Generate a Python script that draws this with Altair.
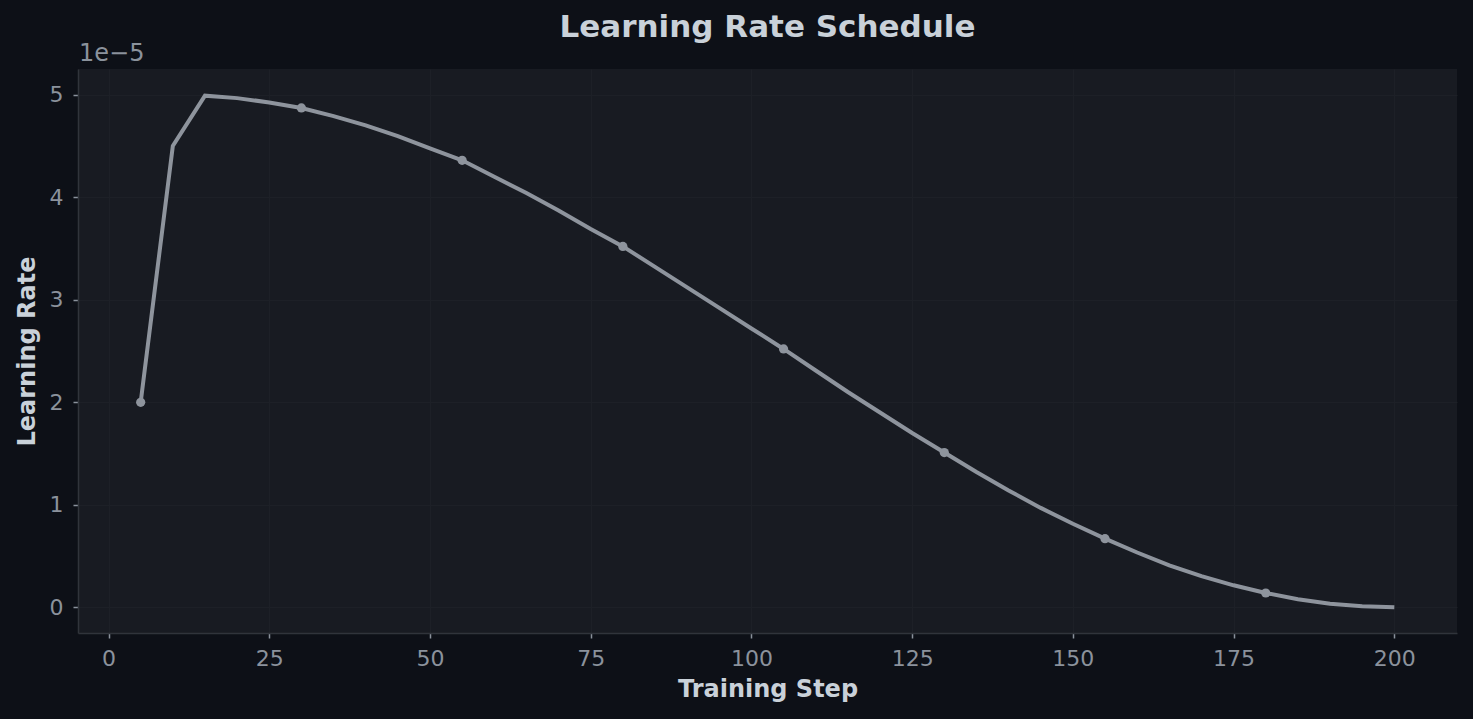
import altair as alt
import pandas as pd

# Learning rate schedule values (in units of 1e-5)
steps = [5, 10, 15, 20, 25, 30, 35, 40, 45, 50, 55, 60, 65, 70, 75, 80, 85, 90, 95, 100,
         105, 110, 115, 120, 125, 130, 135, 140, 145, 150, 155, 160, 165, 170, 175, 180,
         185, 190, 195, 200]
lr_1e5 = [2.0, 4.5, 4.99, 4.966, 4.924, 4.87, 4.79, 4.70, 4.595, 4.475, 4.36, 4.20,
          4.04, 3.87, 3.69, 3.52, 3.32, 3.12, 2.92, 2.72, 2.52, 2.31, 2.10, 1.90,
          1.70, 1.51, 1.32, 1.14, 0.97, 0.815, 0.67, 0.535, 0.41, 0.305, 0.215, 0.14,
          0.08, 0.035, 0.01, 0.0]
marker_steps = [5, 30, 55, 80, 105, 130, 155, 180]

x_ticks = [0, 25, 50, 75, 100, 125, 150, 175, 200]
y_ticks = [0, 1, 2, 3, 4, 5]

df = pd.DataFrame({"step": steps, "lr": lr_1e5})
df_pts = df[df["step"].isin(marker_steps)]

BG = "#0d1017"
PLOT_BG = "#181b22"
LINE = "#8e949d"
LABEL = "#8b929c"
TITLE = "#c9d1d9"
SPINE = "#30343b"
GRID = "#1d2027"

x_enc = alt.X("step:Q",
              scale=alt.Scale(domain=[-4.75, 209.75], nice=False, zero=False),
              axis=alt.Axis(values=x_ticks, title="Training Step", grid=True))
y_enc = alt.Y("lr:Q",
              scale=alt.Scale(domain=[-0.25, 5.25], nice=False, zero=False),
              axis=alt.Axis(values=y_ticks, title="Learning Rate", grid=True))

line = alt.Chart(df).mark_line(color=LINE, strokeWidth=4).encode(x=x_enc, y=y_enc)
pts = alt.Chart(df_pts).mark_point(filled=True, color=LINE, size=85, opacity=1).encode(x=x_enc, y=y_enc)

offset_text = alt.Chart(pd.DataFrame({"t": ["1e\u22125"]})).mark_text(
    align="left", baseline="middle", fontSize=24, color=LABEL, font="DejaVu Sans"
).encode(x=alt.value(1), y=alt.value(-15), text="t:N")

chart = alt.layer(line, pts, offset_text).properties(
    width=1379,
    height=564,
    background=BG,
    padding={"left": 78, "top": 69, "right": 16, "bottom": 86},
    autosize=alt.AutoSizeParams(type="none"),
    title=alt.TitleParams("Learning Rate Schedule", anchor="middle", fontSize=31,
                          fontWeight="bold", color=TITLE, font="DejaVu Sans", offset=5, dy=7),
).configure_view(
    fill=PLOT_BG, stroke=None
).configure_axis(
    labelFont="DejaVu Sans", labelFontSize=22, labelColor=LABEL,
    titleFont="DejaVu Sans", titleFontSize=24, titleFontWeight="bold", titleColor=TITLE,
    domainColor=SPINE, domainWidth=1.5, tickColor=LABEL, tickSize=5, tickWidth=1.5,
    gridColor=GRID, gridWidth=1, labelPadding=10,
).configure_axisX(
    titlePadding=8
).configure_axisY(
    titlePadding=10
)

chart.save("out.html", embed_options={"renderer": "svg", "actions": False})
